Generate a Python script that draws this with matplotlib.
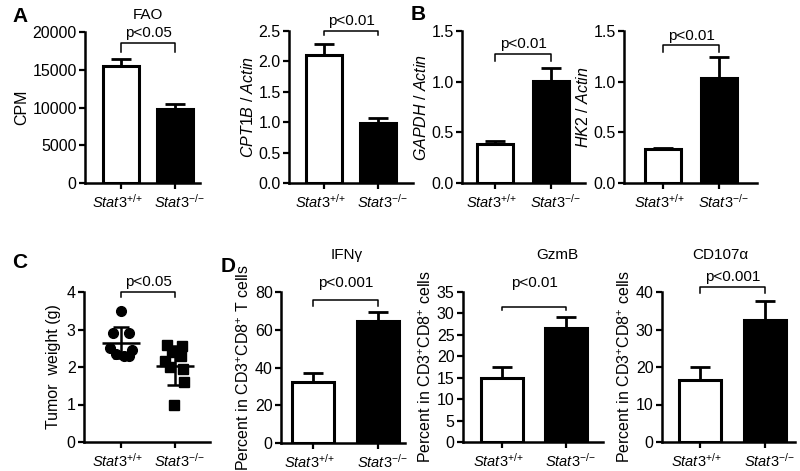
#Stat3 figure: metabolism (A, B), tumor weight (C) and CD8 T cell function (D)
import matplotlib
matplotlib.use('Agg')
import matplotlib.pyplot as plt
from matplotlib.transforms import ScaledTranslation

plt.rcParams['font.family'] = ['Liberation Sans', 'DejaVu Sans']
plt.rcParams['font.size'] = 11
plt.rcParams['mathtext.fontset'] = 'custom'
plt.rcParams['mathtext.rm'] = 'Liberation Sans'
plt.rcParams['mathtext.it'] = 'Liberation Sans:italic'
plt.rcParams['mathtext.bf'] = 'Liberation Sans:bold'

#data
groups = [r'$\mathit{Stat3}^{\mathit{{+}/{+}}}$', r'$\mathit{Stat3}^{\mathit{{-}/{-}}}$']

fao_mean = [15500, 9800]
fao_err = [900, 600]
cpt1b_mean = [2.10, 0.99]
cpt1b_err = [0.18, 0.08]
gapdh_mean = [0.38, 1.01]
gapdh_err = [0.03, 0.12]
hk2_mean = [0.335, 1.04]
hk2_err = [0.015, 0.20]

tumor_wt = [3.5, 2.9, 2.9, 2.5, 2.45, 2.35, 2.3, 2.3]
tumor_ko = [2.58, 2.55, 2.4, 2.3, 2.15, 2.0, 1.95, 1.6, 1.0]
tumor_mean = [2.65, 2.03]
tumor_sd = [0.42, 0.52]

ifng_mean = [32.5, 64.5]
ifng_err = [4.5, 5.0]
gzmb_mean = [15.0, 26.7]
gzmb_err = [2.5, 2.4]
cd107_mean = [16.5, 32.5]
cd107_err = [3.5, 5.0]

W, H = 800, 471
fig = plt.figure(figsize=(W / 100, H / 100), dpi=100)


def make_ax(left, right, top, bottom, t0, t1, ymax):
    # pixel box -> axes; t0/t1 are pixel x of the two categories
    ax = fig.add_axes([left / W, 1 - bottom / H, (right - left) / W, (bottom - top) / H])
    step = t1 - t0
    ax.set_xlim((left - t0) / step, (right - t0) / step)
    ax.set_ylim(0, ymax)
    for s in ['top', 'right']:
        ax.spines[s].set_visible(False)
    for s in ['left', 'bottom']:
        ax.spines[s].set_linewidth(1.8)
    ax.tick_params(width=1.6, length=4, direction='out', labelsize=11.5, pad=2)
    ax.tick_params(axis='x', labelsize=10.5, pad=3)
    ax.set_xticks([0, 1])
    labs = ax.set_xticklabels(groups)
    # labels sit a few pixels apart from their ticks, like in the original
    for lab, dx in zip(labs, [-0.04, 0.04]):
        lab.set_transform(lab.get_transform() + ScaledTranslation(dx, 0, fig.dpi_scale_trans))
    return ax


def bars(ax, means, errs):
    ax.bar([0, 1], means, width=0.65, color=['white', 'black'], edgecolor='black',
           linewidth=2.2, zorder=2)
    ax.errorbar([0, 1], means, yerr=[[0, 0], errs], fmt='none', ecolor='black',
                elinewidth=2, capsize=7, capthick=2, zorder=1)


def bracket(ax, y, drop, text, text_y=None):
    ax.plot([0, 0, 1, 1], [y - drop, y, y, y - drop], color='black', lw=1.1, clip_on=False)
    if text_y is None:
        text_y = y
    ax.text(0.5, text_y, text, ha='center', va='bottom', fontsize=11, clip_on=False)


def title(x, y, text):
    fig.text(x / W, 1 - y / H, text, fontsize=11, ha='center', va='center')


# A - FAO
ax = make_ax(85, 200, 32, 183, 121, 175, 20000)
bars(ax, fao_mean, fao_err)
ax.set_yticks([0, 5000, 10000, 15000, 20000])
ax.set_ylabel('CPM', fontsize=11.5, labelpad=2)
bracket(ax, 18500, 1100, 'p<0.05', 18900)
title(148, 15, 'FAO')

# A - CPT1B
ax = make_ax(289, 413, 31, 183, 324, 378, 2.5)
bars(ax, cpt1b_mean, cpt1b_err)
ax.set_yticks([0, 0.5, 1.0, 1.5, 2.0, 2.5])
ax.set_yticklabels(['0.0', '0.5', '1.0', '1.5', '2.0', '2.5'])
ax.set_ylabel(r'$\mathit{CPT1B\ /\ Actin}$', fontsize=11.5, labelpad=2)
bracket(ax, 2.5, 0.07, 'p<0.01', 2.55)

# B - GAPDH
ax = make_ax(462, 585, 31, 183, 495, 551, 1.5)
bars(ax, gapdh_mean, gapdh_err)
ax.set_yticks([0, 0.5, 1.0, 1.5])
ax.set_ylabel(r'$\mathit{GAPDH\ /\ Actin}$', fontsize=11.5, labelpad=2)
bracket(ax, 1.27, 0.07, 'p<0.01', 1.30)

# B - HK2
ax = make_ax(624, 757, 31, 183, 663, 719, 1.5)
bars(ax, hk2_mean, hk2_err)
ax.set_yticks([0, 0.5, 1.0, 1.5])
ax.set_ylabel(r'$\mathit{HK2\ /\ Actin}$', fontsize=11.5, labelpad=2)
bracket(ax, 1.36, 0.07, 'p<0.01', 1.38)

# C - tumor weight
ax = make_ax(84, 210, 292, 442, 121, 175, 4)
wt_x = [0.0, -0.14, 0.14, -0.2, 0.2, -0.1, 0.06, 0.15]
ko_x = [-0.15, 0.13, -0.05, 0.12, -0.18, -0.1, 0.14, 0.16, -0.02]
ax.plot(wt_x, tumor_wt, 'o', color='black', ms=7, zorder=3, clip_on=False)
ax.plot([1 + d for d in ko_x], tumor_ko, 's', color='black', ms=7, zorder=3, clip_on=False)
ax.hlines(tumor_mean, [-0.35, 0.65], [0.35, 1.35], colors='black', lw=1.8, zorder=4)
ax.errorbar([0, 1], tumor_mean, yerr=tumor_sd, fmt='none', ecolor='black',
            elinewidth=1.8, capsize=6, capthick=1.8, zorder=4)
ax.set_yticks([0, 1, 2, 3, 4])
ax.set_ylabel('Tumor  weight (g)', fontsize=11.5, labelpad=4)
bracket(ax, 4.0, 0.13, 'p<0.05', 4.08)

# D - IFNg
ax = make_ax(281, 405, 292, 443, 313, 378, 80)
bars(ax, ifng_mean, ifng_err)
ax.set_yticks([0, 20, 40, 60, 80])
ax.set_ylabel(r'Percent in CD3$^{+}$CD8$^{+}$ T cells', fontsize=11.5, labelpad=2)
bracket(ax, 76, 3.5, 'p<0.001', 81)
title(347, 255, 'IFNγ')

# D - GzmB
ax = make_ax(463, 603, 292, 442, 502, 566, 35)
bars(ax, gzmb_mean, gzmb_err)
ax.set_yticks([0, 5, 10, 15, 20, 25, 30, 35])
ax.set_ylabel(r'Percent in CD3$^{+}$CD8$^{+}$ cells', fontsize=11.5, labelpad=2)
bracket(ax, 31.5, 0.8, 'p<0.01', 35.5)
title(557, 255, 'GzmB')

# D - CD107a
ax = make_ax(662, 795, 292, 442, 700, 765, 40)
bars(ax, cd107_mean, cd107_err)
ax.set_yticks([0, 10, 20, 30, 40])
ax.set_ylabel(r'Percent in CD3$^{+}$CD8$^{+}$ cells', fontsize=11.5, labelpad=2)
bracket(ax, 41.3, 1.5, 'p<0.001', 42)
title(720, 255, 'CD107α')

# panel letters
for letter, x, y in [('A', 20, 17), ('B', 418, 15), ('C', 20, 262), ('D', 228, 267)]:
    fig.text(x / W, 1 - y / H, letter, fontsize=15, fontweight='bold', ha='center', va='center')

fig.savefig('out.png', dpi=100)
